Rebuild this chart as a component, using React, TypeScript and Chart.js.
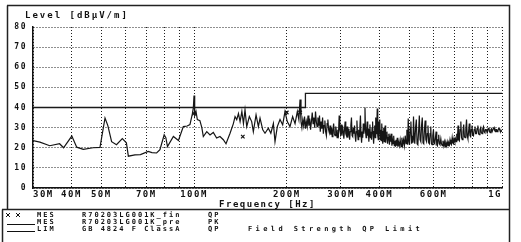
import React, { useEffect, useRef } from 'react';
import { Chart, registerables } from 'chart.js';

Chart.register(...registerables);

// Pre-scan peak trace, [MHz, dBµV/m], split in frequency bands
const pkBand1: [number, number][] = [
  [30, 23.5], [31.6, 22.8], [34, 21], [36.6, 22], [37.7, 20], [40.1, 25.8], [41.6, 20.3], [43.7, 19.2],
  [47, 20], [49.5, 20.2], [51.4, 34.8], [52.5, 31], [54, 23], [56, 21.5], [58.5, 24.5], [60.3, 22.5],
  [61.2, 15.8], [64.3, 16.5], [67, 16.6], [71, 18.2], [73, 17.6], [75.6, 17.4], [77.5, 19], [80, 26.4],
  [81, 25], [82, 20.6], [85.7, 25.6], [89, 23.6], [92.3, 30.5], [95, 30.8], [97, 31.5], [98.8, 37],
  [99.5, 40], [100, 46], [100.5, 36], [101.5, 38], [102.5, 34], [104.5, 33.5], [106, 30], [107.2, 25.6],
];
const pkBand2: [number, number][] = [
  [110, 28], [112.7, 26.4], [115.5, 27.6], [118.4, 24.8], [121.4, 25.6], [124.5, 24], [127, 22], [130.9, 27.2],
  [134.2, 32], [135.9, 35.5], [137.6, 34], [139.4, 37], [141.1, 33], [143, 38], [144.7, 32], [146.4, 38.8],
  [148.3, 30.5], [151.2, 35.5], [153.9, 33], [155.8, 28], [159, 36.3], [161.8, 30.5], [163.8, 34.7], [167.2, 28.9],
  [170, 27.2], [174.3, 29.7], [177.6, 27.2], [181, 32], [183.2, 23], [186.4, 30.5], [190.2, 34], [194, 31.4],
  [197.4, 38], [200.8, 33], [204.9, 30.5], [209, 35.5], [212.8, 32], [216.5, 38], [219, 34], [220.9, 44],
  [222.5, 33],
];
const pkBand3: [number, number][] = [
  [224, 30], [225.5, 34], [227, 31], [228.5, 35.5], [230, 29.5], [231.5, 33], [233, 30.5], [234.5, 36],
  [236, 31], [237.5, 34.5], [239, 29], [240.5, 33], [242, 37.5], [243.5, 32], [245, 35], [246.5, 30],
  [248, 38], [249.5, 33], [251, 30.5], [252.5, 35], [254, 31], [255.5, 36], [257, 28], [258.5, 33],
  [260, 29.5], [261.5, 35], [263, 27], [264.5, 31], [266, 33.5], [267.5, 28], [269, 26], [270.5, 32],
  [272, 34], [273.5, 29], [275, 27.5], [276.5, 31], [278, 26.5], [279.5, 30], [281, 25.5], [282.5, 29],
  [284, 32], [285.5, 27], [287, 26], [288.5, 30.5], [290, 28], [291.5, 25], [293, 29], [294.5, 27],
  [296, 36], [297.5, 29], [299, 27], [300.5, 31.5], [302, 26], [303.5, 31], [305, 28], [306.5, 24.5],
  [308, 29], [309.5, 33], [311, 27], [312.5, 26], [314, 30.5], [315.5, 25], [317, 29.5], [318.5, 27],
  [320, 24], [321.5, 28], [323, 31], [324.5, 35], [326, 26], [327.5, 25.5], [329, 30], [330.5, 27],
  [332, 31], [333.5, 26], [335, 23], [336.5, 28], [338, 33.5], [339.5, 27], [341, 24], [342.5, 29],
  [344, 25.5], [345.5, 30], [347, 36], [348.5, 27], [350, 22.5], [351.5, 28], [353, 25], [354.5, 32],
  [356, 27], [357.5, 30], [359, 40], [360.5, 28], [362, 25], [363.5, 29], [365, 33], [366.5, 26],
  [368, 29.5], [369.5, 23], [371, 27], [372.5, 31.5], [374, 25], [375.5, 28], [377, 24], [378.5, 30],
  [380, 33], [381.5, 26], [383, 22], [384.5, 28], [386, 31], [387.5, 25], [389, 35], [390.5, 27],
  [392, 30], [393.5, 39.5], [395, 26], [396.5, 24], [398, 33], [399.5, 27], [401, 34], [402.5, 24],
  [404, 29], [405.5, 23.5], [407, 32], [408.5, 26], [410, 22], [411.5, 28], [413, 30], [414.5, 23],
  [416, 27], [417.5, 31], [419, 22.5], [421, 26], [423, 28], [425, 22], [427, 25], [429, 27],
  [431, 21.5], [433, 25], [435, 23], [437, 27], [439, 21], [441, 24], [443, 22], [445, 26],
  [447, 21], [449, 23.5], [451, 20.5], [453, 24], [455, 21], [457, 25], [459, 20.5],
];
const pkBand4: [number, number][] = [
  [461, 23], [464, 21], [467, 24], [470, 20.5], [473, 25], [476, 21.5], [479, 24], [482, 21],
  [485, 26], [488, 22], [491, 29], [494, 21.5], [496, 34.5], [499, 23], [501, 21.5], [504, 30],
  [506, 33], [509, 22], [511, 26], [514, 22.5], [516, 35.5], [519, 24], [521, 22], [524, 30],
  [527, 34], [530, 22], [533, 21.5], [536, 28], [539, 36], [542, 24], [545, 23], [548, 31],
  [551, 35], [554, 22.5], [557, 22], [560, 29], [563, 33.5], [566, 24], [569, 23], [572, 27],
  [575, 31], [578, 22.5], [581, 22], [584, 27], [587, 30.5], [590, 22], [593, 21.5], [596, 26],
  [599, 29], [602, 22.5], [605, 22], [608, 25], [611, 28], [614, 21.5], [617, 21], [620, 24],
  [623, 26.5], [626, 22], [629, 21.5], [633, 24.5], [636, 22], [640, 21], [643, 23.5], [647, 21],
  [650, 23], [654, 20.5], [657, 22.5], [661, 21], [664, 23], [668, 21], [671, 22.5], [675, 21.5],
  [678, 24], [682, 22], [685, 21.5], [689, 25], [692, 22.5], [696, 22], [699, 24.5], [703, 23],
];
const pkBand5: [number, number][] = [
  [706, 24.5], [710, 23], [713, 27], [716, 23.5], [720, 31], [723, 24], [727, 23.5], [731, 29],
  [735, 33], [739, 25], [743, 24], [747, 28], [751, 31.5], [755, 25.5], [759, 25], [763, 29],
  [767, 34], [771, 26], [775, 24.5], [779, 28], [783, 32], [787, 26], [791, 25.5], [795, 29],
  [799, 31], [803, 26.5], [808, 26], [812, 29], [817, 30.5], [821, 27], [826, 27], [830, 29.5],
  [835, 31], [839, 27], [844, 26.5], [848, 29], [853, 30], [857, 27.5], [862, 27], [866, 29.5],
  [871, 30.5], [875, 28], [880, 27.5], [884, 29], [889, 29], [893, 28], [898, 28], [902, 29.5],
  [907, 30], [911, 28], [916, 27.5], [920, 29], [925, 29.5], [929, 28], [934, 28], [938, 29.5],
  [943, 30], [947, 28.5], [952, 28], [956, 29], [961, 29], [965, 28], [970, 28.5], [975, 29.5],
  [980, 29.5], [985, 28.5], [990, 28], [995, 28.5], [1000, 28],
];

// Final QP measurements
const qpFreq = [100, 144, 200, 221];
const qpLevel = [37, 25.5, 37.5, 37.5];

// Limit line GB 4824 Class A
const limFreq = [30, 230, 230, 1000];
const limLevel = [40, 40, 47, 47];

const xGridTicks = [30, 40, 50, 60, 70, 80, 90, 100, 200, 300, 400, 500, 600, 700, 800, 900, 1000];
const xLabelValues = [30, 40, 50, 70, 100, 200, 300, 400, 600, 1000];
const xLabelTexts = ['30M', '40M', '50M', '70M', '100M', '200M', '300M', '400M', '600M', '1G'];
const yTicks = [0, 10, 20, 30, 40, 50, 60, 70, 80];

const yTitle = 'Level [dBµV/m]';
const xTitle = 'Frequency [Hz]';
const legendSymbols = ['cross', 'line', 'line'];
const legendKind = ['MES', 'MES', 'LIM'];
const legendName = ['R70203LG001K_fin', 'R70203LG001K_pre', 'GB 4824 F ClassA'];
const legendDet = ['QP', 'PK', 'QP'];
const legendNote = ['', '', 'Field Strength QP Limit'];

const MONO = '"DejaVu Sans Mono", monospace';

const framePlugin = {
  id: 'frame',
  beforeDraw(chart: any) {
    const ctx = chart.ctx;
    ctx.save();
    ctx.fillStyle = '#ffffff';
    ctx.fillRect(0, 0, chart.width, chart.height);
    ctx.restore();
    ctx.letterSpacing = '1.5px';
  },
  afterDraw(chart: any) {
    const ctx = chart.ctx;
    ctx.save();
    ctx.letterSpacing = '0px';
    ctx.strokeStyle = '#222';
    ctx.lineWidth = 1.5;
    ctx.beginPath();
    ctx.moveTo(7, 5.5);
    ctx.lineTo(509.5, 5.5);
    ctx.lineTo(509.5, 242);
    ctx.moveTo(7.5, 5.5);
    ctx.lineTo(7.5, 209.5);
    ctx.moveTo(2, 209.5);
    ctx.lineTo(509.5, 209.5);
    ctx.moveTo(2.5, 209.5);
    ctx.lineTo(2.5, 242);
    ctx.stroke();

    ctx.fillStyle = '#111';
    ctx.textBaseline = 'middle';
    ctx.textAlign = 'left';
    ctx.font = `bold 9px ${MONO}`;
    ctx.letterSpacing = '2px';
    ctx.fillText(yTitle, 25, 15.5);

    const rowsY = [215, 222, 229];
    ctx.font = `bold 7px ${MONO}`;
    for (let i = 0; i < rowsY.length; i++) {
      const y = rowsY[i];
      ctx.lineWidth = 1;
      ctx.strokeStyle = '#111';
      if (legendSymbols[i] === 'cross') {
        [8, 18].forEach((cx) => {
          ctx.beginPath();
          ctx.moveTo(cx - 2, y - 2);
          ctx.lineTo(cx + 2, y + 2);
          ctx.moveTo(cx - 2, y + 2);
          ctx.lineTo(cx + 2, y - 2);
          ctx.stroke();
        });
      } else {
        ctx.beginPath();
        ctx.moveTo(7, y + 2.5);
        ctx.lineTo(35, y + 2.5);
        ctx.stroke();
      }
      ctx.letterSpacing = '2px';
      ctx.fillText(legendKind[i], 37, y);
      ctx.fillText(legendName[i], 82, y);
      ctx.fillText(legendDet[i], 208, y);
      if (legendNote[i]) {
        ctx.letterSpacing = '3.4px';
        ctx.fillText(legendNote[i], 248, y);
      }
    }
    ctx.restore();
  },
};

export default function App() {
  const ref = useRef<HTMLCanvasElement | null>(null);

  useEffect(() => {
    if (!ref.current) return;
    const pkTrace = [...pkBand1, ...pkBand2, ...pkBand3, ...pkBand4, ...pkBand5];
    const chart = new Chart(ref.current, {
      type: 'line',
      data: {
        datasets: [
          {
            label: 'LIM',
            data: limFreq.map((f, i) => ({ x: f, y: limLevel[i] })),
            borderColor: '#1a1a1a',
            borderWidth: 1.3,
            pointRadius: 0,
            tension: 0,
          },
          {
            label: 'PK',
            data: pkTrace.map(([f, l]) => ({ x: f, y: l })),
            borderColor: '#151515',
            borderWidth: 1.2,
            pointRadius: 0,
            tension: 0,
          },
          {
            label: 'QP',
            data: qpFreq.map((f, i) => ({ x: f, y: qpLevel[i] })),
            showLine: false,
            pointStyle: 'crossRot',
            pointRadius: 2.5,
            borderColor: '#111',
            borderWidth: 1.2,
          },
        ],
      },
      options: {
        animation: false,
        responsive: false,
        devicePixelRatio: 1,
        layout: { padding: { top: 27, right: 19, left: 0, bottom: 0 } },
        plugins: { legend: { display: false }, tooltip: { enabled: false } },
        scales: {
          x: {
            type: 'logarithmic',
            min: 30,
            max: 1000,
            afterBuildTicks: (s: any) => {
              s.ticks = xGridTicks.map((v) => ({ value: v }));
            },
            afterFit: (s: any) => {
              s.height = 54;
              s.paddingLeft = 0;
              s.paddingRight = 0;
            },
            grid: { color: '#1e1e1e', lineWidth: 1, drawTicks: false },
            border: { display: true, color: '#111', width: 1.5, dash: [1, 2] },
            ticks: {
              autoSkip: false,
              maxRotation: 0,
              minRotation: 0,
              align: 'inner',
              padding: 1,
              color: '#111',
              font: { family: MONO, size: 9, weight: 'bold' },
              callback: (v: any) => {
                const i = xLabelValues.indexOf(Number(v));
                return i >= 0 ? xLabelTexts[i] : '';
              },
            },
            title: {
              display: true,
              text: xTitle,
              color: '#111',
              font: { family: MONO, size: 9, weight: 'bold' },
              padding: { top: 0, bottom: 32 },
            },
          },
          y: {
            type: 'linear',
            min: 0,
            max: 80,
            afterBuildTicks: (s: any) => {
              s.ticks = yTicks.map((v) => ({ value: v }));
            },
            afterFit: (s: any) => {
              s.width = 33;
              s.paddingTop = 0;
              s.paddingBottom = 0;
            },
            grid: { color: '#1e1e1e', lineWidth: 1, drawTicks: false },
            border: { display: true, color: '#111', width: 1.5, dash: [1, 2] },
            ticks: {
              padding: 6,
              color: '#111',
              font: { family: MONO, size: 8, weight: 'bold' },
            },
          },
        },
      },
      plugins: [framePlugin],
    } as any);
    return () => chart.destroy();
  }, []);

  return (
    <div style={{ position: 'fixed', left: 0, top: 0, width: 521, height: 242, background: '#fff' }}>
      <canvas ref={ref} width={521} height={242} style={{ display: 'block' }} />
    </div>
  );
}
